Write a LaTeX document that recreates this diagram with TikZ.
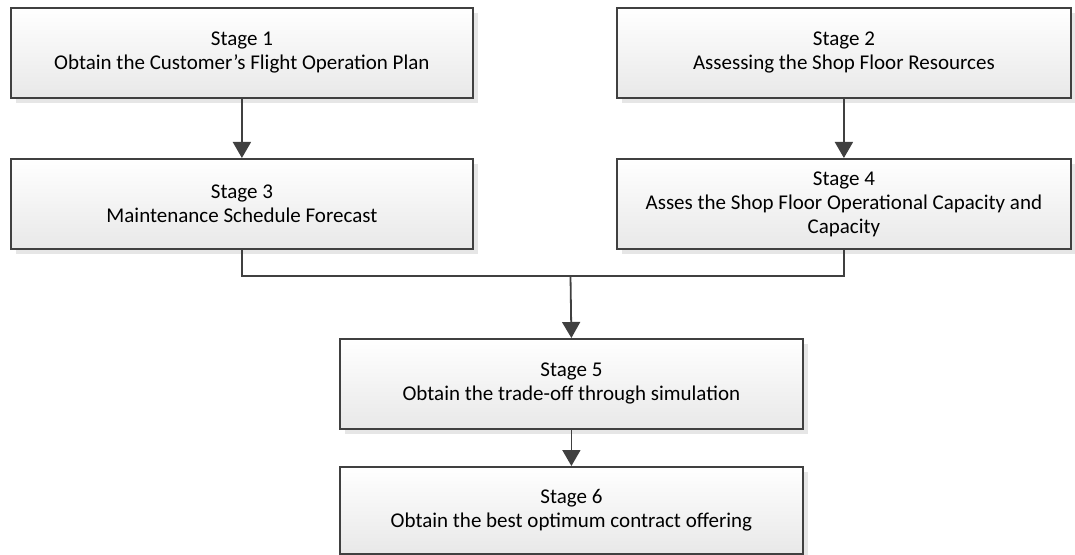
\documentclass[tikz,border=0pt]{standalone}
\usepackage{fontspec}
\setmainfont{Carlito}
\usetikzlibrary{shadows,arrows.meta}
\definecolor{edge}{HTML}{404040}
\begin{document}
\begin{tikzpicture}[x=1bp,y=-1bp,
  stagebox/.style={draw=edge, line width=1.8bp, top color=white, bottom color=black!9,
    anchor=north west, inner sep=0pt, align=center,
    font=\fontsize{21bp}{24bp}\selectfont,
    drop shadow={shadow xshift=5bp, shadow yshift=-5bp, fill=black!12, opacity=0.8}},
  link/.style={draw=edge, line width=1.8bp},
  flow/.style={link, -{Triangle[width=18bp,length=16bp]}}]
\useasboundingbox (0,0) rectangle (1075,555);

% stage boxes
\node[stagebox, minimum width=462bp, minimum height=90bp] (s1) at (10,7)
  {Stage 1\\Obtain the Customer’s Flight Operation Plan};
\node[stagebox, minimum width=454bp, minimum height=90bp] (s2) at (616,7)
  {Stage 2\\Assessing the Shop Floor Resources};
\node[stagebox, minimum width=462bp, minimum height=90bp] (s3) at (10,158)
  {Stage 3\\Maintenance Schedule Forecast};
\node[stagebox, minimum width=454bp, minimum height=90bp] (s4) at (616,158)
  {Stage 4\\Asses the Shop Floor Operational Capacity and\\Capacity};
\node[stagebox, minimum width=463bp, minimum height=90bp] (s5) at (339,338)
  {Stage 5\\Obtain the trade-off through simulation};
\node[stagebox, minimum width=463bp, minimum height=87bp] (s6) at (339,466)
  {Stage 6\\Obtain the best optimum contract offering};

% connectors
\coordinate (j) at (570.5,276);
\draw[flow] (s1.south) -- (s3.north);
\draw[flow] (s2.south) -- (s4.north);
\draw[link] (s3.south) |- (j) -| (s4.south);
\draw[flow] (j) -- (s5.north);
\draw[flow] (s5.south) -- (s6.north);
\end{tikzpicture}
\end{document}
